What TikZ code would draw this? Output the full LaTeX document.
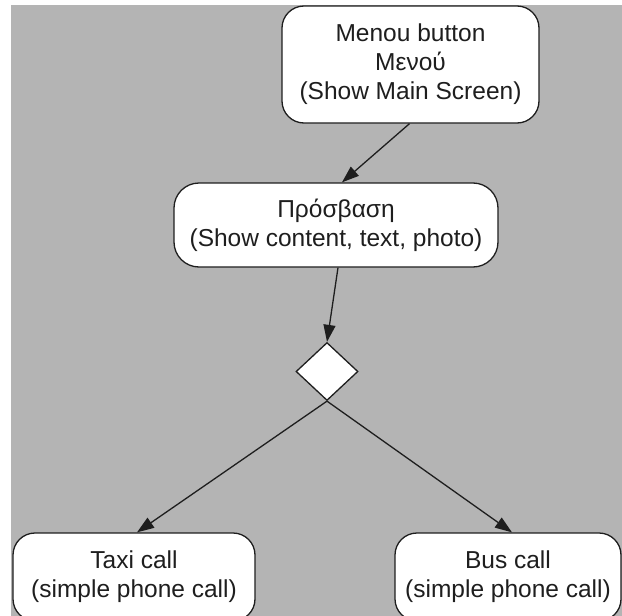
\documentclass[tikz,border=0pt]{standalone}
\usepackage{fontspec}
\setmainfont{Liberation Sans}
\usetikzlibrary{shapes.geometric,arrows.meta}
\definecolor{bggray}{HTML}{B4B4B4}
\definecolor{ink}{HTML}{1E1E1E}
\begin{document}
\begin{tikzpicture}[x=1pt,y=-1pt,
  box/.style={draw=ink,line width=1.3pt,fill=white,rounded corners=22pt,
    align=center,inner sep=0pt,text=ink,
    font=\fontsize{24.5}{29}\selectfont},
  decision/.style={diamond,draw=ink,line width=1.3pt,fill=white,inner sep=0pt,
    minimum width=62pt,minimum height=58pt,aspect=1.07},
  flow/.style={draw=ink,line width=1.3pt,-{Triangle[length=17pt,width=12pt]}}]
\useasboundingbox (0,0) rectangle (622,616);
\begin{scope}
\clip (0,0) rectangle (622,616);
\fill[bggray] (11,5) rectangle (622,616);
\node[box,minimum width=257pt,minimum height=117pt] (menu) at (410.5,64.5)
  {Menou button\\Μενού\\(Show Main Screen)};
\node[box,minimum width=324pt,minimum height=84pt,rounded corners=25pt] (access) at (336,225)
  {Πρόσβαση\\(Show content, text, photo)};
\node[decision] (dec) at (327,371.5) {};
\node[box,minimum width=242pt,minimum height=88pt] (taxi) at (134,577)
  {Taxi call\\(simple phone call)};
\node[box,minimum width=226pt,minimum height=88pt] (bus) at (508,577)
  {Bus call\\(simple phone call)};
\draw[flow] ([xshift=-1pt]menu.south) -- ([xshift=6pt]access.north);
\draw[flow] ([xshift=2pt]access.south) -- (dec.north);
\draw[flow] (dec.south) -- ([xshift=3pt]taxi.north);
\draw[flow] (dec.south) -- ([xshift=4pt]bus.north);
\end{scope}
\end{tikzpicture}
\end{document}
